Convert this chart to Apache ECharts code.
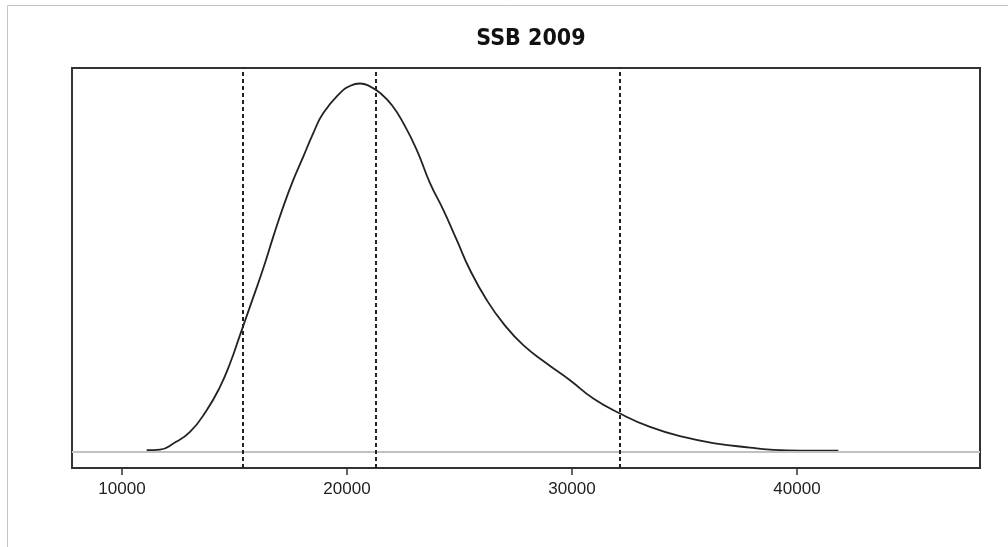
<!DOCTYPE html>
<html>
<head>
<meta charset="utf-8">
<script src="https://cdn.jsdelivr.net/npm/echarts@6/dist/echarts.min.js"></script>
<style>
html,body{margin:0;padding:0;background:#fff;}
#chart{width:1008px;height:547px;}
</style>
</head>
<body>
<div id="chart"></div>
<script>
// Chart data
const titleText = 'SSB 2009';
const ssbValues = [11098, 11689, 12280, 13022, 13764, 14356, 14800, 15244, 15836, 16280, 16724, 17169, 17613, 18058, 18502, 18947, 19689, 20150, 20578, 21000, 21500, 22000, 22502, 23098, 23689, 24280, 24876, 25467, 26209, 26947, 27836, 28876, 29911, 30947, 32133, 33467, 34947, 36431, 37911, 38800, 40133, 41836];
const densityValues = [0.46, 0.65, 2.27, 5.41, 11.28, 17.58, 23.9, 31.56, 41.8, 49.59, 58.14, 66.25, 73.47, 79.77, 86.10, 91.51, 96.92, 98.9, 99.5, 98.8, 96.8, 93.6, 88.80, 81.59, 72.58, 65.36, 57.25, 49.13, 41.02, 34.72, 28.84, 23.9, 19.39, 14.44, 10.38, 6.76, 4.06, 2.27, 1.19, 0.65, 0.38, 0.38];
const quantileLines = [15364, 21289, 32133];
const xTickValues = [10000, 20000, 30000, 40000];
const xRange = [7778, 48133];
const yRange = [-4.33, 103.68];

const chart = echarts.init(document.getElementById('chart'), null, {renderer: 'canvas'});
const dark = '#333333';

chart.setOption({
  animation: false,
  backgroundColor: '#ffffff',
  title: {
    text: titleText,
    left: 526,
    textAlign: 'center',
    top: 23,
    textStyle: {
      fontFamily: '"DejaVu Sans Condensed", "Liberation Sans Narrow", "DejaVu Sans", sans-serif',
      fontWeight: 'bold',
      fontSize: 23,
      color: '#111'
    }
  },
  graphic: [
    {type: 'line', shape: {x1: 7.5, y1: 5.5, x2: 1008, y2: 5.5}, style: {stroke: '#c4c4c4', lineWidth: 1}, silent: true},
    {type: 'line', shape: {x1: 7.5, y1: 5.5, x2: 7.5, y2: 547}, style: {stroke: '#c4c4c4', lineWidth: 1}, silent: true}
  ],
  grid: {
    left: 72, right: 28, top: 68, bottom: 79,
    show: true,
    borderColor: dark,
    borderWidth: 2,
    backgroundColor: 'transparent'
  },
  xAxis: {
    type: 'value',
    min: xRange[0],
    max: xRange[1],
    splitLine: {show: false},
    axisLine: {show: true, onZero: false, lineStyle: {color: dark, width: 2}},
    axisTick: {show: true, length: 7, lineStyle: {color: dark, width: 1.5}, customValues: xTickValues},
    axisLabel: {
      show: true,
      customValues: xTickValues,
      formatter: v => String(v),
      margin: 13,
      fontFamily: '"Liberation Sans", Arial, sans-serif',
      fontSize: 17,
      color: '#222'
    }
  },
  yAxis: {
    type: 'value',
    min: yRange[0],
    max: yRange[1],
    show: false,
    splitLine: {show: false}
  },
  series: [
    {
      name: 'baseline',
      type: 'line',
      data: [],
      z: 1,
      markLine: {
        silent: true,
        symbol: 'none',
        label: {show: false},
        lineStyle: {color: '#c2c2c2', width: 2, type: 'solid'},
        data: [{yAxis: 0}]
      }
    },
    {
      name: 'density',
      type: 'line',
      z: 3,
      data: ssbValues.map((v, i) => [v, densityValues[i]]),
      smooth: 0.5,
      showSymbol: false,
      symbol: 'none',
      lineStyle: {color: '#222', width: 1.8},
      markLine: {
        silent: true,
        symbol: 'none',
        label: {show: false},
        lineStyle: {color: '#222', width: 2, type: [4, 3]},
        data: quantileLines.map(v => ({xAxis: v}))
      }
    }
  ]
});
</script>
</body>
</html>
